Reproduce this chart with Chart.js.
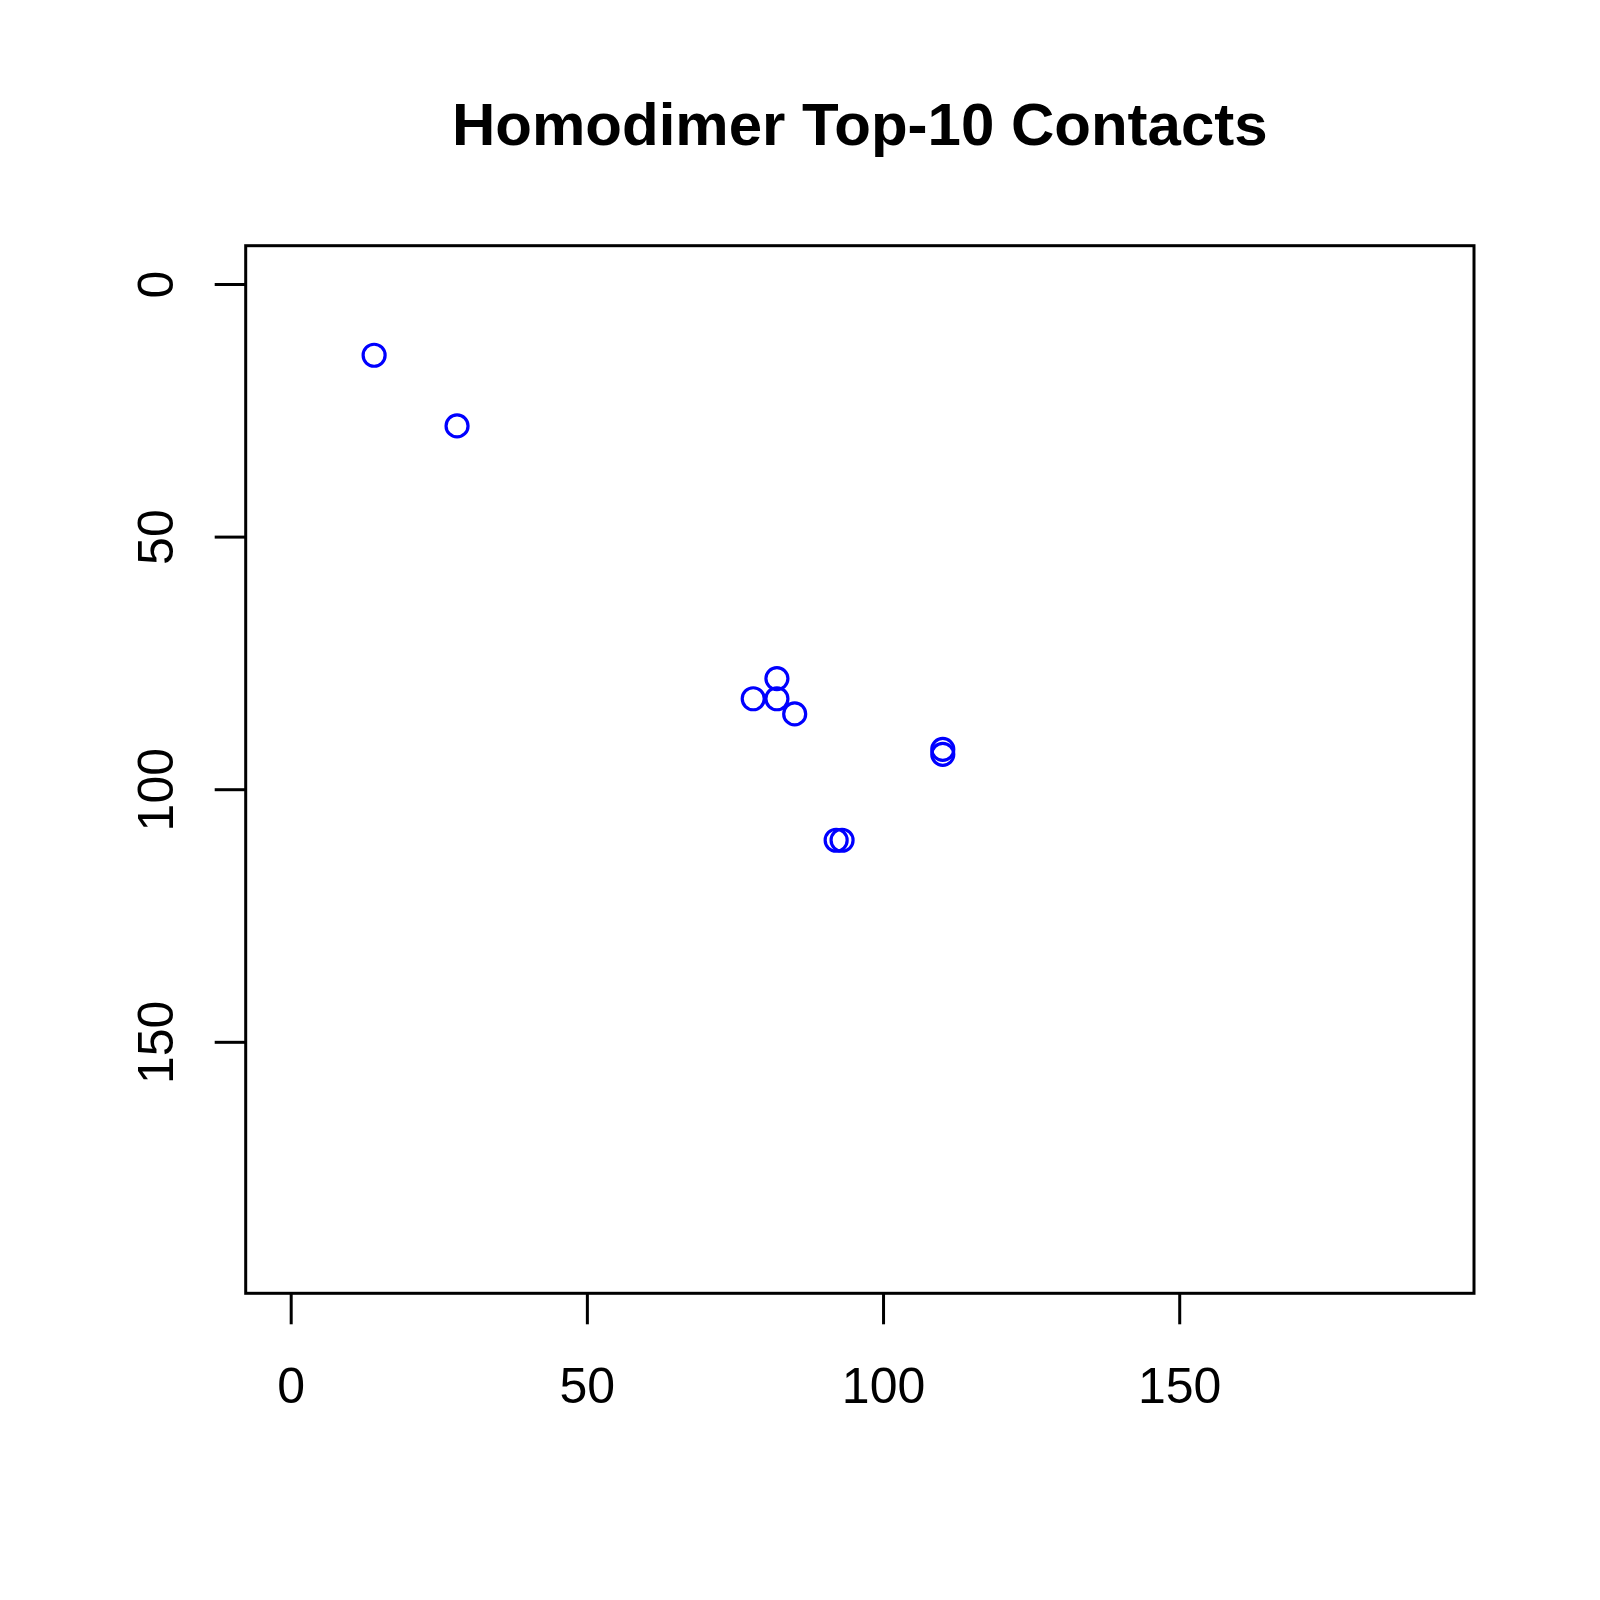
<!DOCTYPE html>
<html>
<head>
<meta charset="utf-8">
<script src="https://cdn.jsdelivr.net/npm/chart.js@4/dist/chart.umd.min.js"></script>
<style>
  html, body { margin: 0; padding: 0; background: #ffffff; }
  #wrap { width: 1600px; height: 1600px; }
</style>
</head>
<body>
<div id="wrap"><canvas id="c" width="1600" height="1600"></canvas></div>
<script>
const chartTitle = "Homodimer Top-10 Contacts";
const residueX = [14, 28, 82, 78, 82, 85, 110, 110, 92, 93];
const residueY = [14, 28, 78, 82, 82, 85, 92, 93, 110, 110];
const xTicks = [0, 50, 100, 150];
const yTicks = [0, 50, 100, 150];
const axisMin = -7.68;
const axisMax = 199.68;

const points = residueX.map((x, i) => ({ x: x, y: residueY[i] }));

const rAxesPlugin = {
  id: 'rAxes',
  afterDraw(chart) {
    const ctx = chart.ctx;
    const a = chart.chartArea;
    const xs = chart.scales.x, ys = chart.scales.y;
    ctx.save();
    ctx.strokeStyle = '#000';
    ctx.fillStyle = '#000';
    ctx.lineWidth = 3;
    ctx.lineCap = 'butt';
    // box
    ctx.strokeRect(a.left, a.top, a.right - a.left, a.bottom - a.top);
    // x ticks
    ctx.font = '50px "Liberation Sans", Arial, sans-serif';
    ctx.textAlign = 'center';
    ctx.textBaseline = 'alphabetic';
    xTicks.forEach(v => {
      const px = xs.getPixelForValue(v);
      ctx.beginPath();
      ctx.moveTo(px, a.bottom);
      ctx.lineTo(px, a.bottom + 31);
      ctx.stroke();
      ctx.fillText(String(v), px, 1403);
    });
    // y ticks
    yTicks.forEach(v => {
      const py = ys.getPixelForValue(v);
      ctx.beginPath();
      ctx.moveTo(a.left, py);
      ctx.lineTo(a.left - 31, py);
      ctx.stroke();
      ctx.save();
      ctx.translate(173, py);
      ctx.rotate(-Math.PI / 2);
      ctx.fillText(String(v), 0, 0);
      ctx.restore();
    });
    // title
    ctx.font = 'bold 60px "Liberation Sans", Arial, sans-serif';
    ctx.fillText(chartTitle, (a.left + a.right) / 2, 145);
    ctx.restore();
  }
};

new Chart(document.getElementById('c'), {
  type: 'scatter',
  data: {
    datasets: [{
      data: points,
      pointStyle: 'circle',
      pointRadius: 11,
      pointHoverRadius: 11,
      borderWidth: 3.2,
      borderColor: '#0000ff',
      backgroundColor: 'rgba(0,0,0,0)'
    }]
  },
  options: {
    responsive: false,
    animation: false,
    devicePixelRatio: 1,
    layout: { padding: { left: 245.7, right: 126, top: 245.7, bottom: 306.7 } },
    plugins: { legend: { display: false }, tooltip: { enabled: false }, title: { display: false } },
    scales: {
      x: { type: 'linear', min: axisMin, max: axisMax, display: false },
      y: { type: 'linear', min: axisMin, max: axisMax, reverse: true, display: false }
    }
  },
  plugins: [rAxesPlugin]
});
</script>
</body>
</html>
